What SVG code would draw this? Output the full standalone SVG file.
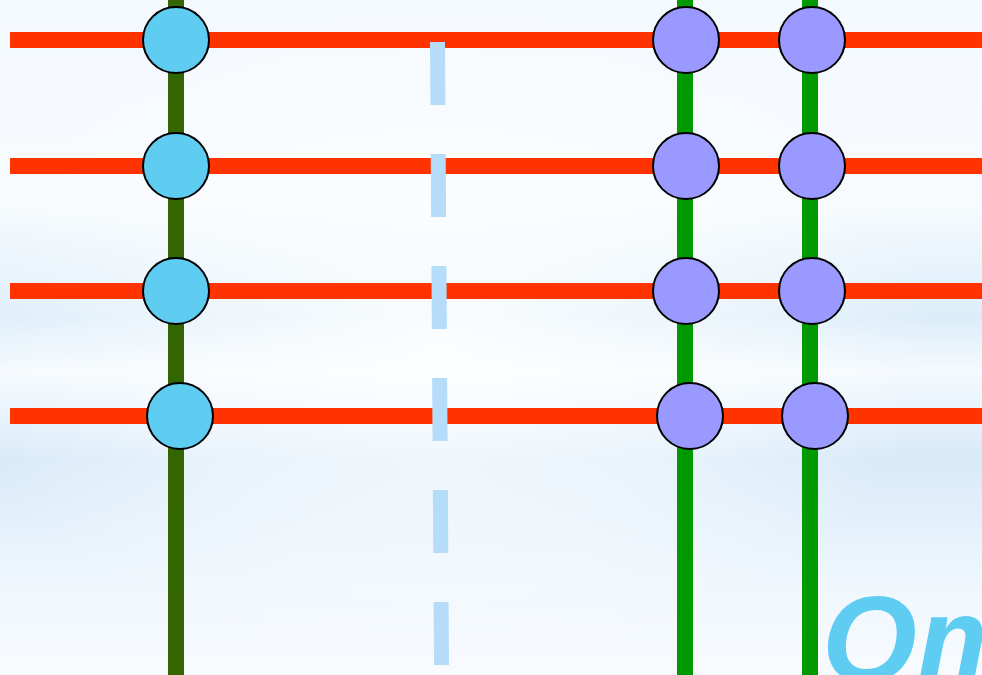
<svg xmlns="http://www.w3.org/2000/svg" width="982" height="675" viewBox="0 0 982 675">
  <defs>
    <linearGradient id="bg" x1="0" y1="0" x2="0" y2="1">
      <stop offset="0" stop-color="#F4F9FE"/>
      <stop offset="0.3" stop-color="#F7FBFE"/>
      <stop offset="0.47" stop-color="#DCEDF9"/>
      <stop offset="0.55" stop-color="#F5FAFE"/>
      <stop offset="0.68" stop-color="#D8EAF8"/>
      <stop offset="0.85" stop-color="#EEF6FD"/>
      <stop offset="1" stop-color="#F8FBFE"/>
    </linearGradient>
    <radialGradient id="glow" cx="0.45" cy="0.5" r="0.5">
      <stop offset="0" stop-color="#FFFFFF" stop-opacity="0.85"/>
      <stop offset="0.6" stop-color="#FFFFFF" stop-opacity="0.4"/>
      <stop offset="1" stop-color="#FFFFFF" stop-opacity="0"/>
    </radialGradient>
    <style>
      .red { stroke: #FF3300; stroke-width: 16; fill: none; }
      .dkg { stroke: #336600; stroke-width: 16; fill: none; }
      .grn { stroke: #009900; stroke-width: 16; fill: none; }
      .dash { stroke: #B5DCF9; stroke-width: 15; fill: none; stroke-dasharray: 63 49; }
      .blue { fill: #5FCDF2; stroke: #000; stroke-width: 2; }
      .purp { fill: #9999FF; stroke: #000; stroke-width: 2; }
      .title { font-family: "Liberation Sans", Arial, sans-serif; font-weight: bold; font-style: italic; font-size: 122px; fill: #5FCDF2; }
    </style>
  </defs>
  <rect width="982" height="675" fill="url(#bg)"/>
  <rect width="982" height="675" fill="url(#glow)"/>
  <g id="connectors">
    <line class="red" x1="10" y1="40" x2="982" y2="40"/>
    <line class="red" x1="10" y1="166" x2="982" y2="166"/>
    <line class="red" x1="10" y1="291" x2="982" y2="291"/>
    <line class="red" x1="10" y1="416" x2="982" y2="416"/>
    <line class="dkg" x1="176" y1="0" x2="176" y2="675"/>
    <line class="grn" x1="685" y1="0" x2="685" y2="675"/>
    <line class="grn" x1="810" y1="0" x2="810" y2="675"/>
    <line class="dash" x1="437.5" y1="42" x2="441.5" y2="665"/>
  </g>
  <g id="n1"><circle class="blue" cx="176" cy="40" r="33"/></g>
  <g id="n2"><circle class="blue" cx="176" cy="166" r="33"/></g>
  <g id="n3"><circle class="blue" cx="176" cy="291" r="33"/></g>
  <g id="n4"><circle class="blue" cx="180" cy="416" r="33"/></g>
  <g id="n5"><circle class="purp" cx="686" cy="40" r="33"/></g>
  <g id="n6"><circle class="purp" cx="812" cy="40" r="33"/></g>
  <g id="n7"><circle class="purp" cx="686" cy="166" r="33"/></g>
  <g id="n8"><circle class="purp" cx="812" cy="166" r="33"/></g>
  <g id="n9"><circle class="purp" cx="686" cy="291" r="33"/></g>
  <g id="n10"><circle class="purp" cx="812" cy="291" r="33"/></g>
  <g id="n11"><circle class="purp" cx="690" cy="416" r="33"/></g>
  <g id="n12"><circle class="purp" cx="815" cy="416" r="33"/></g>
  <text class="title" x="822" y="682">Om</text>
</svg>
